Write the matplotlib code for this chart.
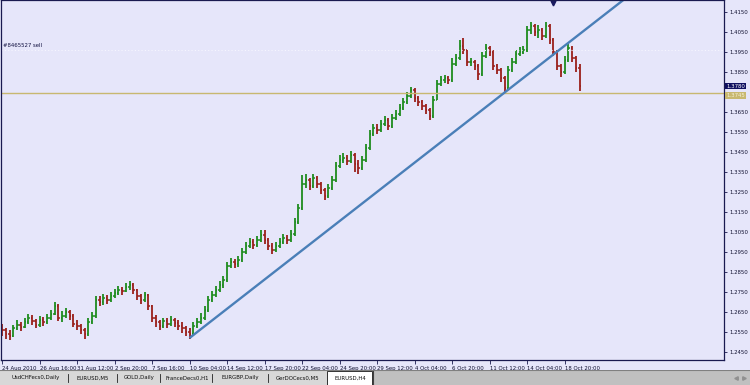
import matplotlib.pyplot as plt
from matplotlib.patches import Rectangle

# EURUSD H4 bars
closes = [
    1.2560, 1.2540, 1.2530, 1.2570, 1.2585, 1.2575, 1.2600, 1.2620, 1.2605, 1.2585,
    1.2610, 1.2600, 1.2620, 1.2640, 1.2680, 1.2620, 1.2630, 1.2650, 1.2630, 1.2590,
    1.2580, 1.2560, 1.2540, 1.2600, 1.2630, 1.2710, 1.2700, 1.2720, 1.2710, 1.2730,
    1.2745, 1.2760, 1.2755, 1.2775, 1.2785, 1.2760, 1.2730, 1.2710, 1.2735, 1.2680,
    1.2620, 1.2600, 1.2580, 1.2605, 1.2590, 1.2610, 1.2595, 1.2580, 1.2570, 1.2550,
    1.2540, 1.2580, 1.2600, 1.2620, 1.2660, 1.2710, 1.2735, 1.2760, 1.2785, 1.2810,
    1.2880, 1.2900, 1.2890, 1.2910, 1.2950, 1.2980, 1.3000, 1.2985, 1.3010, 1.3035,
    1.3010, 1.2980, 1.2960, 1.2980, 1.3000, 1.3020, 1.3010, 1.3040, 1.3100, 1.3170,
    1.3290, 1.3310, 1.3280, 1.3320, 1.3290, 1.3260, 1.3230, 1.3270, 1.3310, 1.3380,
    1.3410, 1.3420, 1.3405, 1.3435, 1.3390, 1.3370, 1.3410, 1.3470, 1.3540, 1.3570,
    1.3560, 1.3590, 1.3610, 1.3580, 1.3620, 1.3640, 1.3670, 1.3700, 1.3730, 1.3760,
    1.3720, 1.3700, 1.3680, 1.3660, 1.3630, 1.3710, 1.3790, 1.3810, 1.3820, 1.3810,
    1.3890, 1.3920, 1.3980, 1.3960, 1.3900, 1.3900, 1.3880, 1.3840, 1.3930, 1.3970,
    1.3950, 1.3880, 1.3860, 1.3820, 1.3770, 1.3860, 1.3900, 1.3940, 1.3950, 1.3960,
    1.4060, 1.4080, 1.4050, 1.4060, 1.4030, 1.4080, 1.4010, 1.3950, 1.3880, 1.3850,
    1.3910, 1.3970, 1.3920, 1.3870, 1.3780,
]
highs = [
    1.2590, 1.2570, 1.2560, 1.2585, 1.2610, 1.2600, 1.2620, 1.2640, 1.2635, 1.2615,
    1.2630, 1.2625, 1.2640, 1.2660, 1.2700, 1.2690, 1.2655, 1.2670, 1.2660, 1.2640,
    1.2610, 1.2590, 1.2570, 1.2620, 1.2650, 1.2730, 1.2730, 1.2740, 1.2735, 1.2750,
    1.2765, 1.2780, 1.2775, 1.2795, 1.2805, 1.2795, 1.2765, 1.2740, 1.2750, 1.2740,
    1.2685, 1.2635, 1.2610, 1.2620, 1.2620, 1.2630, 1.2620, 1.2610, 1.2600, 1.2580,
    1.2570, 1.2600, 1.2620, 1.2645, 1.2680, 1.2730, 1.2755, 1.2780, 1.2805, 1.2830,
    1.2900, 1.2920, 1.2915, 1.2930, 1.2970, 1.3000, 1.3020, 1.3015, 1.3030, 1.3060,
    1.3060, 1.3020, 1.2995, 1.3000, 1.3020, 1.3040, 1.3035, 1.3060, 1.3120, 1.3190,
    1.3335, 1.3340, 1.3320, 1.3340, 1.3330, 1.3300, 1.3270, 1.3290, 1.3330, 1.3400,
    1.3435, 1.3445, 1.3435, 1.3455, 1.3445, 1.3410, 1.3430, 1.3490, 1.3560, 1.3590,
    1.3590, 1.3610, 1.3630, 1.3620, 1.3640, 1.3660, 1.3690, 1.3720, 1.3750, 1.3775,
    1.3770, 1.3730, 1.3710, 1.3690, 1.3670, 1.3730, 1.3810, 1.3830, 1.3835, 1.3830,
    1.3920, 1.3940, 1.4010, 1.4020, 1.3960, 1.3920, 1.3910, 1.3890, 1.3950, 1.3990,
    1.3980, 1.3960, 1.3890, 1.3870, 1.3830, 1.3880, 1.3920, 1.3960, 1.3975, 1.3980,
    1.4080, 1.4100, 1.4090, 1.4085, 1.4070, 1.4100, 1.4090, 1.4020, 1.3960, 1.3890,
    1.3930, 1.3990, 1.3980, 1.3930, 1.3890,
]
lows = [
    1.2530, 1.2515, 1.2510, 1.2525, 1.2560, 1.2555, 1.2570, 1.2590, 1.2585, 1.2570,
    1.2575, 1.2580, 1.2590, 1.2610, 1.2635, 1.2605, 1.2600, 1.2620, 1.2610, 1.2575,
    1.2560, 1.2540, 1.2515, 1.2530, 1.2590, 1.2620, 1.2680, 1.2685, 1.2690, 1.2700,
    1.2720, 1.2735, 1.2735, 1.2750, 1.2760, 1.2740, 1.2710, 1.2690, 1.2700, 1.2660,
    1.2600, 1.2575, 1.2560, 1.2570, 1.2570, 1.2580, 1.2575, 1.2560, 1.2545, 1.2530,
    1.2515, 1.2530, 1.2570, 1.2590, 1.2610, 1.2650, 1.2700, 1.2725, 1.2750, 1.2770,
    1.2800, 1.2870, 1.2870, 1.2875, 1.2900, 1.2940, 1.2970, 1.2965, 1.2975, 1.3000,
    1.2990, 1.2960, 1.2940, 1.2950, 1.2970, 1.2990, 1.2990, 1.3000, 1.3030, 1.3090,
    1.3160, 1.3270, 1.3260, 1.3270, 1.3270, 1.3240, 1.3210, 1.3220, 1.3260, 1.3300,
    1.3370, 1.3395, 1.3385, 1.3395, 1.3350, 1.3340, 1.3360, 1.3400, 1.3460, 1.3530,
    1.3540, 1.3550, 1.3580, 1.3560, 1.3570, 1.3610, 1.3630, 1.3660, 1.3690, 1.3720,
    1.3700, 1.3680, 1.3660, 1.3640, 1.3610, 1.3620, 1.3710, 1.3780, 1.3795, 1.3790,
    1.3800, 1.3880, 1.3910, 1.3940, 1.3880, 1.3880, 1.3860, 1.3810, 1.3830, 1.3920,
    1.3930, 1.3860, 1.3840, 1.3800, 1.3745, 1.3760, 1.3850, 1.3890, 1.3930, 1.3940,
    1.3950, 1.4040, 1.4030, 1.4020, 1.4010, 1.4020, 1.3990, 1.3930, 1.3860, 1.3825,
    1.3840, 1.3900, 1.3900, 1.3850, 1.3755,
]
first_open = 1.2575

time_labels = ["24 Aug 2010", "26 Aug 16:00", "31 Aug 12:00", "2 Sep 20:00",
               "7 Sep 16:00", "10 Sep 04:00", "14 Sep 12:00", "17 Sep 20:00",
               "22 Sep 04:00", "24 Sep 20:00", "29 Sep 12:00", "4 Oct 04:00",
               "6 Oct 20:00", "11 Oct 12:00", "14 Oct 04:00", "18 Oct 20:00"]
price_ticks = [1.4150, 1.4050, 1.3950, 1.3850, 1.3650, 1.3550, 1.3450, 1.3350,
               1.3250, 1.3150, 1.3050, 1.2950, 1.2850, 1.2750, 1.2650, 1.2550, 1.2450]

trend_bars = [50, 166]
trend_prices = [1.2520, 1.4215]
order_price = 1.3960
order_text = "#8465527 sell"
level_price = 1.3745
arrow_bar, arrow_price = 147, 1.4195
tabs = ["UsdCHFecs0,Daily", "EURUSD,M5", "GOLD,Daily", "FranceDecs0,H1",
        "EURGBP,Daily", "GerDOCecs0,M5", "EURUSD,H4"]

BG = '#e6e6fa'
UP = '#1e8c1e'
DOWN = '#9a1f1a'
AX = '#1a1a50'
FS = 3.9

fig = plt.figure(figsize=(7.5, 3.85), dpi=100, facecolor=BG)
ax = fig.add_axes([1 / 750, 25 / 385, 723 / 750, 360 / 385])
ax.set_facecolor(BG)

opens = [first_open] + closes[:-1]
n = len(closes)
for i in range(n):
    c = UP if closes[i] >= opens[i] else DOWN
    ax.vlines(i, lows[i], highs[i], color=c, lw=1.3)
    ax.hlines(opens[i], i - 0.4, i, color=c, lw=1.1)
    ax.hlines(closes[i], i, i + 0.4, color=c, lw=1.1)

# order line and horizontal level
ax.axhline(order_price, color='#f6f6ff', lw=0.8, ls=(0, (1, 2)))
ax.text(0.3, order_price + 0.0008, order_text, fontsize=FS, color='#101040',
        va='bottom', ha='left')
ax.axhline(level_price, color='#c8b870', lw=1.0)

# trendline
ax.plot(trend_bars, trend_prices, color='#4a7fb8', lw=1.7, solid_capstyle='butt')
ax.plot(arrow_bar, arrow_price, marker='v', color='#1a1a60', ms=3.5)

ax.set_xlim(-0.27, 192.5)
ax.set_ylim(1.2410, 1.4210)

ax.set_xticks(range(0, 10 * len(time_labels), 10))
ax.set_xticklabels(time_labels, fontsize=FS, color='#101030', ha='left')
ax.tick_params(axis='x', direction='out', length=3, pad=1, color=AX, width=0.6)

ax.yaxis.tick_right()
ax.set_yticks(price_ticks)
ax.set_yticklabels(['%.4f' % p for p in price_ticks], fontsize=FS, color='#101030')
ax.tick_params(axis='y', direction='out', length=2.5, pad=1.5, color=AX, width=0.6)

for s in ax.spines.values():
    s.set_color(AX)
    s.set_linewidth(0.9)

# price boxes at the right axis
tr = ax.get_yaxis_transform()
ax.text(1.003, closes[-1], '%.4f' % closes[-1], transform=tr, fontsize=FS,
        color='white', va='center', ha='left', clip_on=False,
        bbox=dict(boxstyle='square,pad=0.15', fc='#101060', ec='none'))
ax.text(1.003, level_price - 0.0012, '%.4f' % level_price, transform=tr,
        fontsize=FS, color='#f4f0d8', va='center', ha='left', clip_on=False,
        bbox=dict(boxstyle='square,pad=0.15', fc='#c8b870', ec='none'))

# tab strip at the bottom
tab_ax = fig.add_axes([0, 0, 1, 15 / 385])
tab_ax.set_xlim(0, 750)
tab_ax.set_ylim(0, 15)
tab_ax.axis('off')
tab_ax.add_patch(Rectangle((0, 0), 750, 15, fc='#c0c0c0', ec='none'))
tab_ax.add_patch(Rectangle((0, 0), 327, 15, fc='#d8d8d8', ec='none'))
tab_ax.add_patch(Rectangle((327, 0), 45, 14, fc='white', ec='#303030', lw=0.7))
tab_ax.plot([0, 750], [14.6, 14.6], color='#808080', lw=0.8)
tab_ax.plot([373, 373], [0, 14], color='#404040', lw=0.8)
tab_centers = [36, 93, 139, 187, 240, 298, 350]
for t, cx in zip(tabs, tab_centers):
    tab_ax.text(cx, 7, t, fontsize=FS, color='#101010', ha='center', va='center')
for sx in [68, 117, 160, 212, 268]:
    tab_ax.plot([sx, sx], [3, 11], color='#202020', lw=0.6)
tab_ax.plot([736], [7], marker='<', color='#909090', ms=2.5)
tab_ax.plot([744], [7], marker='>', color='#909090', ms=2.5)

fig.savefig('out.png', dpi=100, facecolor=BG)
